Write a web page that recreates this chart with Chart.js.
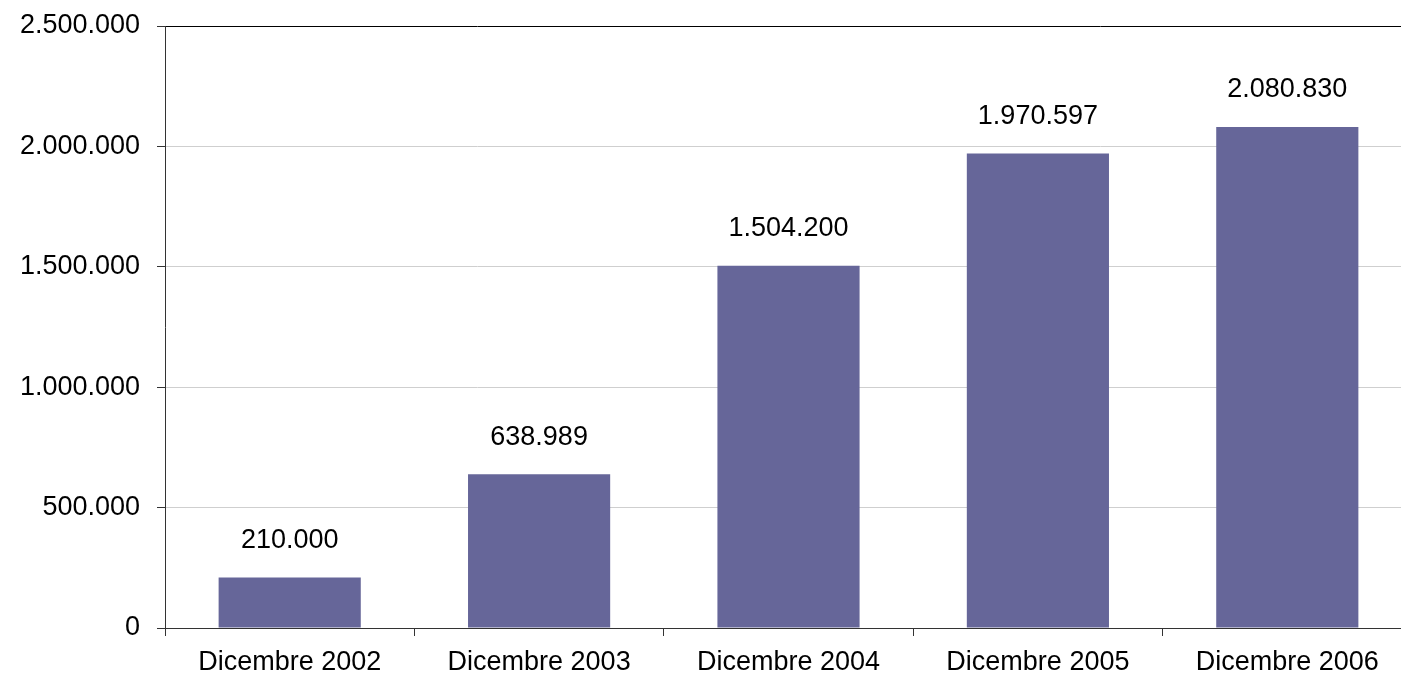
<!DOCTYPE html>
<html>
<head>
<meta charset="utf-8">
<script src="https://cdn.jsdelivr.net/npm/chart.js@4.4.1/dist/chart.umd.min.js"></script>
<style>
  html, body { margin: 0; padding: 0; overflow: hidden; background: #fff; }
  #wrap { width: 1412px; height: 675px; }
</style>
</head>
<body>
<div id="wrap"><canvas id="chart"></canvas></div>
<script>
    // Categories and values
    const categories = ['Dicembre 2002', 'Dicembre 2003', 'Dicembre 2004', 'Dicembre 2005', 'Dicembre 2006'];
    const values = [210000, 638989, 1504200, 1970597, 2080830];
    const yTicks = [0, 500000, 1000000, 1500000, 2000000, 2500000];

    // Italian style thousands separator: 1.504.200
    function formatNumber(n) {
      return String(Math.round(n)).replace(/\B(?=(\d{3})+(?!\d))/g, '.');
    }

    const fontFamily = '"Liberation Sans", Arial, sans-serif';
    const fontSize = 27;

    // Draws the value above each bar
    const valueLabels = {
      id: 'valueLabels',
      afterDatasetsDraw(chart) {
        const ctx = chart.ctx;
        const meta = chart.getDatasetMeta(0);
        ctx.save();
        ctx.font = fontSize + 'px ' + fontFamily;
        ctx.fillStyle = '#000';
        ctx.textAlign = 'center';
        ctx.textBaseline = 'middle';
        meta.data.forEach((bar, i) => {
          ctx.fillText(formatNumber(values[i]), bar.x, bar.y - 37);
        });
        ctx.restore();
      }
    };

    const ctx = document.getElementById('chart').getContext('2d');
    new Chart(ctx, {
      type: 'bar',
      data: {
        labels: categories,
        datasets: [{
          data: values,
          backgroundColor: '#666699',
          borderWidth: 0,
          barPercentage: 0.57,
          categoryPercentage: 1
        }]
      },
      options: {
        responsive: true,
        maintainAspectRatio: false,
        animation: false,
        layout: { padding: { top: 26, right: 0, bottom: 0, left: 0 } },
        plugins: {
          legend: { display: false },
          tooltip: { enabled: false }
        },
        scales: {
          x: {
            grid: {
              offset: true,
              drawOnChartArea: false,
              drawTicks: true,
              tickLength: 8,
              tickColor: '#333'
            },
            border: { color: '#333', width: 1 },
            ticks: {
              color: '#000',
              padding: 10,
              maxRotation: 0,
              font: { family: fontFamily, size: fontSize }
            },
            afterFit(scale) { scale.height = 47; }
          },
          y: {
            min: 0,
            max: 2500000,
            afterBuildTicks(scale) {
              scale.ticks = yTicks.map(v => ({ value: v }));
            },
            grid: {
              color: ctx => (ctx.tick && ctx.tick.value === 2500000) ? '#000' : '#cfcfcf',
              tickLength: 8,
              tickColor: '#333'
            },
            border: { color: '#333', width: 1 },
            ticks: {
              color: '#000',
              padding: 17,
              callback: v => formatNumber(v),
              font: { family: fontFamily, size: fontSize }
            },
            afterFit(scale) {
              scale.width = 165;
              scale.paddingTop = 10;
              scale.paddingBottom = 10;
            }
          }
        }
      },
      plugins: [valueLabels]
    });
</script>
</body>
</html>
